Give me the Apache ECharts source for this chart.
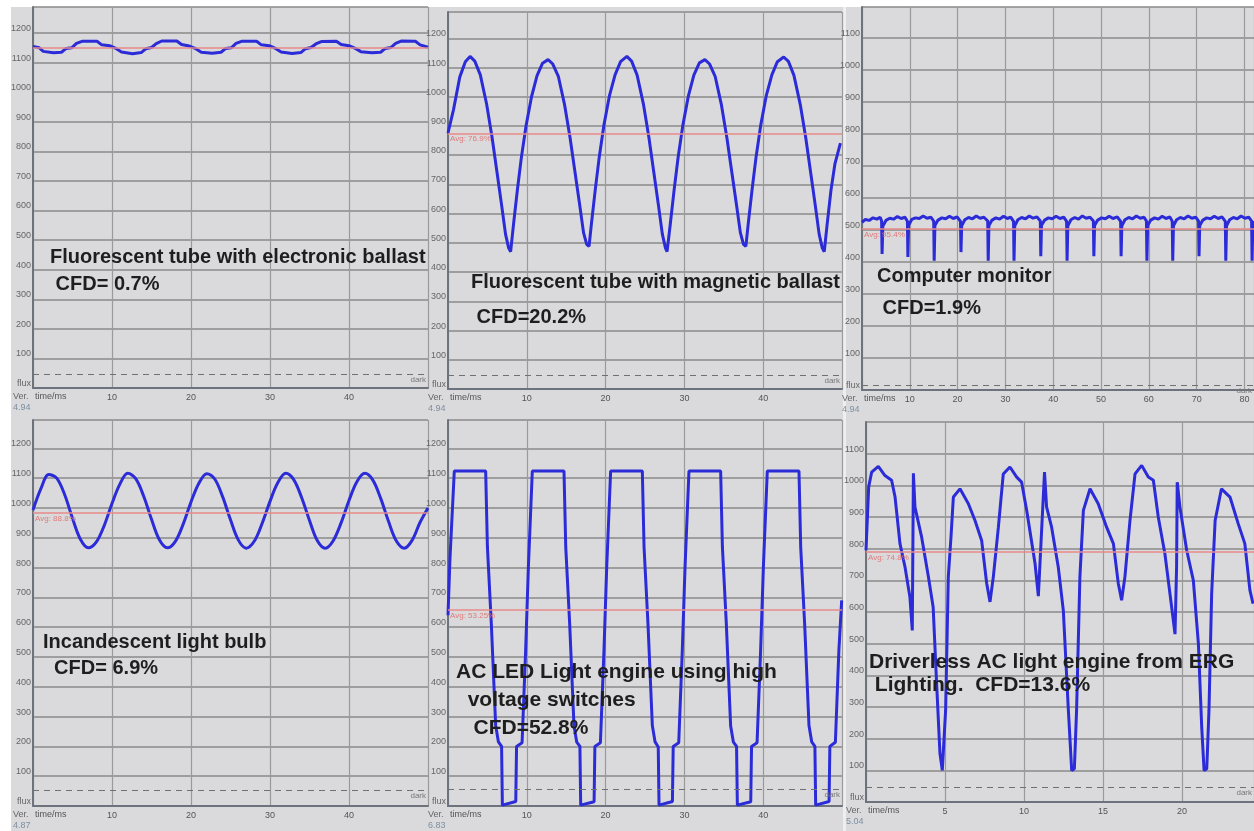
<!DOCTYPE html>
<html>
<head>
<meta charset="utf-8">
<script src="https://cdn.jsdelivr.net/npm/echarts@6/dist/echarts.min.js"></script>
<style>
html,body{margin:0;padding:0;background:#fff;}
#chart{width:1254px;height:831px;}
</style>
</head>
<body>
<div id="chart"></div>
<script>
// ---------- DATA (time in ms, light level) ----------
const electronicBallast = [[0,1155],[0.8,1150],[1.3,1138],[2.6,1133],[3.6,1135],[4.2,1148],[4.9,1150],[5.5,1165],[6.2,1172],[8.1,1172],[8.7,1160],[9.7,1157],
[10.5,1148],[11.2,1136],[12.6,1130],[13.7,1134],[14.3,1147],[15.0,1151],[15.6,1164],[16.3,1173],[18.2,1173],[18.8,1161],[19.8,1156],
[20.6,1147],[21.3,1135],[22.7,1132],[23.8,1135],[24.4,1148],[25.1,1150],[25.7,1165],[26.4,1172],[28.3,1172],[28.9,1160],[29.9,1157],
[30.7,1148],[31.4,1136],[32.8,1131],[33.9,1134],[34.5,1147],[35.2,1151],[35.8,1163],[36.5,1171],[38.4,1172],[39.0,1161],[40.0,1157],
[40.8,1148],[41.5,1137],[42.9,1133],[44.0,1135],[44.6,1148],[45.3,1151],[45.9,1165],[46.6,1173],[48.4,1172],[49.0,1160],[50.0,1152]];

const magneticBallast = [[0,876],[0.7,956],[1.5,1068],[2.2,1120],[2.8,1138],[3.4,1122],[4.1,1075],[4.9,975],[5.6,860],[6.2,745],[6.8,630],[7.3,530],[7.7,482],[7.95,470],[8.3,560],[8.8,680],[9.3,790],[9.9,900],[10.6,1000],[11.3,1072],[12.0,1115],[12.7,1127],
[13.3,1112],[14.0,1070],[14.8,972],[15.5,858],[16.1,745],[16.7,632],[17.2,535],[17.6,495],[17.9,488],[18.2,565],[18.7,685],[19.2,795],[19.8,905],[20.5,1005],[21.2,1075],[21.9,1120],[22.7,1138],
[23.3,1122],[24.0,1074],[24.8,975],[25.5,860],[26.1,745],[26.7,630],[27.2,530],[27.6,482],[27.8,470],[28.2,562],[28.7,682],[29.2,792],[29.8,902],[30.5,1002],[31.2,1074],[31.9,1116],[32.6,1127],
[33.2,1112],[33.9,1070],[34.7,972],[35.4,858],[36.0,745],[36.6,632],[37.1,535],[37.5,495],[37.8,488],[38.1,565],[38.6,685],[39.1,795],[39.7,905],[40.4,1005],[41.1,1075],[41.8,1120],[42.6,1136],
[43.2,1121],[43.9,1073],[44.7,974],[45.4,860],[46.0,745],[46.6,630],[47.1,530],[47.5,482],[47.75,470],[48.1,560],[48.6,680],[49.1,770],[49.8,841]];

const computerMonitor = [[0,524],[0.7,533],[1.5,530],[2.3,538],[3.1,534],[3.8,540],[4.1,528],[4.2,425],[4.35,512],
[5.0,530],[5.8,537],[6.6,534],[7.4,542],[8.2,536],[9.0,540],[9.5,527],[9.6,416],[9.75,515],
[10.4,533],[11.2,538],[12.0,536],[12.8,544],[13.6,537],[14.4,540],[15.0,528],[15.1,404],[15.25,514],
[15.9,531],[16.7,538],[17.5,535],[18.3,543],[19.1,536],[19.9,541],[20.6,527],[20.7,431],[20.85,513],
[21.5,532],[22.3,539],[23.1,535],[23.9,544],[24.7,537],[25.5,540],[26.3,528],[26.4,404],[26.55,514],
[27.2,531],[28.0,538],[28.8,534],[29.6,543],[30.4,536],[31.1,540],[31.7,527],[31.8,404],[31.95,513],
[32.6,532],[33.4,539],[34.2,535],[35.0,544],[35.8,537],[36.6,541],[37.3,528],[37.4,418],[37.55,515],
[38.2,531],[39.0,538],[39.8,535],[40.6,543],[41.4,536],[42.2,540],[42.8,527],[42.9,404],[43.05,513],
[43.7,532],[44.5,539],[45.3,534],[46.1,544],[46.9,537],[47.7,540],[48.4,528],[48.5,418],[48.65,514],
[49.3,531],[50.1,538],[50.9,535],[51.7,543],[52.5,536],[53.4,541],[54.1,527],[54.2,418],[54.35,513],
[55.0,532],[55.8,539],[56.6,535],[57.4,544],[58.2,537],[59.0,540],[59.5,528],[59.6,404],[59.75,514],
[60.4,531],[61.2,538],[62.0,534],[62.8,543],[63.6,536],[64.4,541],[64.9,527],[65.0,404],[65.15,513],
[65.8,532],[66.6,539],[67.4,535],[68.2,544],[69.0,537],[69.8,540],[70.4,528],[70.5,418],[70.65,514],
[71.3,531],[72.1,538],[72.9,535],[73.7,543],[74.5,536],[75.3,541],[76.0,527],[76.1,404],[76.25,513],
[76.9,532],[77.7,539],[78.5,535],[79.3,544],[80.1,537],[80.9,540],[81.5,528],[81.6,404],[81.75,514],[82,528]];

const incandescentBulb = [[0,993],[1,1065],[2,1112],[3,1100],[4,1045],[5,965],[6,895],[7,866],[8,885],[9,940],[10,1015],[11,1080],[12,1116],[13,1098],[14,1040],[15,962],[16,893],[17,866],[18,887],[19,945],[20,1020],[21,1083],[22,1115],[23,1097],[24,1038],[25,960],[26,892],[27,865],[28,888],[29,948],[30,1022],[31,1085],[32,1116],[33,1095],[34,1035],[35,958],[36,890],[37,865],[38,890],[39,950],[40,1025],[41,1088],[42,1116],[43,1094],[44,1033],[45,955],[46,889],[47,865],[48,892],[49,952],[50,1000]];

const acLedSwitches = [[0,640],[0.25,830],[0.8,1124],[4.78,1124],[5.0,870],[5.5,610],[6.05,270],[6.4,215],[6.8,200],[6.9,3],[8.6,15],[8.7,200],[9.4,212],[9.85,520],[10.2,800],[10.7,1124],
[14.72,1124],[14.94,870],[15.44,612],[15.99,268],[16.34,214],[16.74,200],[16.84,3],[18.54,14],[18.64,200],[19.34,212],[19.79,520],[20.14,800],[20.64,1124],
[24.66,1124],[24.88,868],[25.38,610],[25.93,270],[26.28,215],[26.68,198],[26.78,3],[28.48,15],[28.58,200],[29.28,212],[29.73,520],[30.08,800],[30.58,1124],
[34.6,1124],[34.82,870],[35.32,612],[35.87,268],[36.22,214],[36.62,200],[36.72,3],[38.42,14],[38.52,200],[39.22,212],[39.67,520],[40.02,800],[40.52,1124],
[44.54,1124],[44.76,868],[45.26,610],[45.81,270],[46.16,215],[46.56,200],[46.66,3],[48.36,15],[48.46,200],[49.16,214],[49.6,520],[49.96,690]];

const driverlessErg = [[0,795],[0.17,995],[0.36,1042],[0.78,1060],[1.2,1031],[1.62,1016],[1.84,963],[2.15,816],[2.47,742],[2.78,647],[2.93,542],[3.0,1038],[3.1,931],[3.52,837],[3.95,711],[4.25,616],[4.46,385],[4.68,154],[4.83,100],[4.95,100],[5.04,290],[5.21,711],[5.38,837],[5.53,963],[5.95,989],[6.48,942],[6.9,889],[7.32,826],[7.64,690],[7.85,632],[8.06,711],[8.38,868],[8.69,1036],[9.11,1058],[9.54,1026],[9.85,1010],[10.17,921],[10.7,753],[10.91,650],[11.3,1042],[11.43,932],[11.75,868],[12.17,742],[12.49,605],[12.81,290],[13.02,100],[13.19,105],[13.33,290],[13.54,711],[13.76,921],[14.18,989],[14.7,942],[15.23,868],[15.66,816],[15.97,690],[16.18,637],[16.39,711],[16.71,889],[17.03,1036],[17.45,1063],[17.87,1026],[18.19,1016],[18.5,900],[18.92,784],[19.24,658],[19.56,530],[19.66,742],[19.7,1010],[19.87,932],[20.3,795],[20.72,700],[21.04,500],[21.25,237],[21.4,100],[21.57,105],[21.71,290],[21.88,658],[22.1,889],[22.5,989],[23.04,963],[23.56,879],[23.98,816],[24.3,669],[24.5,626]];

const traces = [electronicBallast, magneticBallast, computerMonitor, incandescentBulb, acLedSwitches, driverlessErg];
const avgLevels = [1150, 875, 503, 983, 658, 790];
const avgLabels = ['', 'Avg: 76.9%', 'Avg: 95.4%', 'Avg: 88.8%', 'Avg: 53.25%', 'Avg: 74.8%'];
const darkLevels = [47, 48, 16, 54, 57, 47];
const versionLabels = ['4.94', '4.94', '4.94', '4.87', '6.83', '5.04'];
const titleLines = [
  ['Fluorescent tube with electronic ballast', ' CFD= 0.7%'],
  ['Fluorescent tube with magnetic ballast', ' CFD=20.2%'],
  ['Computer monitor', ' CFD=1.9%'],
  ['Incandescent light bulb', '  CFD= 6.9%'],
  ['AC LED Light engine using high', '  voltage switches', '   CFD=52.8%'],
  ['Driverless AC light engine from ERG', ' Lighting.  CFD=13.6%']
];

// ---------- LAYOUT ----------
const layout = [
  {left:33,  top:7,   width:395, height:381, xMax:50,    xInt:10, yMax:1288},
  {left:448, top:12,  width:394, height:377, xMax:50,    xInt:10, yMax:1290},
  {left:862, top:7,   width:392, height:383, xMax:82,    xInt:10, yMax:1197},
  {left:33,  top:420, width:395, height:386, xMax:50,    xInt:10, yMax:1295},
  {left:448, top:420, width:394, height:386, xMax:50,    xInt:10, yMax:1295},
  {left:866, top:422, width:388, height:380, xMax:24.56, xInt:5,  yMax:1200}
];
const titleFont = [20, 20, 20, 20, 21, 21];
const titlePos = [
  [{x:50,y:257},{x:50,y:284}],
  [{x:471,y:282},{x:471,y:317}],
  [{x:877,y:276},{x:877,y:308}],
  [{x:43,y:642},{x:43,y:668}],
  [{x:456,y:672},{x:456,y:700},{x:456,y:728}],
  [{x:869,y:662},{x:869,y:685}]
];

const FONT = '"Liberation Sans", Arial, sans-serif';
const grids = [], xAxes = [], yAxes = [], series = [], graphics = [];

graphics.push({type:'rect', z:-5, shape:{x:0,y:0,width:1254,height:7}, style:{fill:'#ffffff'}});
graphics.push({type:'rect', z:-5, shape:{x:0,y:0,width:11,height:831}, style:{fill:'#ffffff'}});
graphics.push({type:'rect', z:-5, shape:{x:843,y:7,width:3,height:824}, style:{fill:'#eeeeee'}});

layout.forEach((L, i) => {
  grids.push({left:L.left, top:L.top, width:L.width, height:L.height, containLabel:false});
  xAxes.push({
    type:'value', gridIndex:i, min:0, max:L.xMax, interval:L.xInt,
    axisLine:{show:true, onZero:false, lineStyle:{color:'#6c737d', width:2}},
    axisTick:{show:false},
    axisLabel:{show:true, showMaxLabel:false, fontSize:9, color:'#555', fontFamily:FONT, margin:5,
      formatter: v => v === 0 ? '' : String(v)},
    splitLine:{show:true, lineStyle:{color:'#9a9a9a', width:1.2}}
  });
  yAxes.push({
    type:'value', gridIndex:i, min:0, max:L.yMax, interval:100,
    axisLine:{show:true, onZero:false, lineStyle:{color:'#6c737d', width:2}},
    axisTick:{show:false},
    axisLabel:{show:true, showMaxLabel:false, fontSize:9, color:'#666', fontFamily:FONT, margin:2,
      verticalAlign:'bottom', formatter: v => v === 0 ? 'flux' : String(v)},
    splitLine:{show:true, lineStyle:{color:'#8a8a8a', width:1.5}}
  });
  const mlData = [];
  mlData.push({yAxis:avgLevels[i], lineStyle:{color:'#e88a8a', type:'solid', width:1.5},
    label:{show: avgLabels[i] !== '', formatter: avgLabels[i], position:'insideStartBottom', distance:[2,2], color:'#e07a7a', fontSize:8, fontFamily:FONT}});
  mlData.push({yAxis:darkLevels[i], lineStyle:{color:'#707070', type:[6,5], width:1.2},
    label:{show:true, formatter:'dark', position:'insideEndBottom', distance:[2,2], color:'#777', fontSize:8, fontFamily:FONT}});
  series.push({
    type:'line', xAxisIndex:i, yAxisIndex:i, data:traces[i], showSymbol:false, symbol:'none',
    smooth: i === 3 ? 0.35 : false,
    lineStyle:{color:'#2b2bd8', width:3}, z:3,
    markLine:{symbol:'none', silent:true, animation:false, data:mlData}
  });
  // axis captions
  const rowY = L.top + L.height;
  graphics.push({type:'text', z:10, style:{text:'time/ms', x:L.left+2, y:rowY+9, font:'9px '+FONT, fill:'#555', verticalAlign:'middle'}});
  graphics.push({type:'text', z:10, style:{text:'Ver.', x:L.left-20, y:rowY+9, font:'9px '+FONT, fill:'#666', verticalAlign:'middle'}});
  graphics.push({type:'text', z:10, style:{text:versionLabels[i], x:L.left-20, y:rowY+20, font:'9px '+FONT, fill:'#7d8fa3', verticalAlign:'middle'}});
  titleLines[i].forEach((t, j) => {
    const p = titlePos[i][j];
    graphics.push({type:'text', z:20, style:{text:t, x:p.x, y:p.y, font:'bold '+titleFont[i]+'px '+FONT, fill:'#1e1e1e', verticalAlign:'middle'}});
  });
});

const chart = echarts.init(document.getElementById('chart'), null, {renderer:'canvas'});
chart.setOption({
  backgroundColor:'#dadadc',
  animation:false,
  grid:grids, xAxis:xAxes, yAxis:yAxes, series:series,
  graphic:{elements:graphics}
});
</script>
</body>
</html>
